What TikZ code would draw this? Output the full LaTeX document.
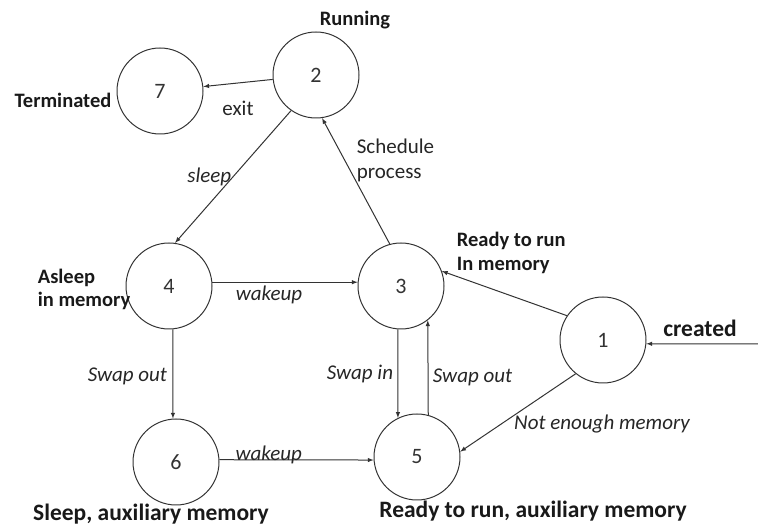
\documentclass[tikz,border=0pt]{standalone}
\usepackage{fontspec}
\setmainfont{Carlito}
\begin{document}
\begin{tikzpicture}[x=1pt, y=1pt, line width=1pt, color=black!80,
    state/.style={draw, circle, minimum size=86pt, inner sep=0pt, font=\fontsize{22}{24}\selectfont},
    lbl/.style={font=\fontsize{21}{25}\selectfont\itshape, text=black!85},
    txt/.style={font=\fontsize{21}{25}\selectfont, text=black!85},
    tag/.style={font=\fontsize{20.5}{24.5}\selectfont\bfseries, text=black!90},
    bigtag/.style={font=\fontsize{23.5}{27}\selectfont\bfseries, text=black!90},
    trans/.style={-latex}]
        \useasboundingbox (0,0) rectangle (758,527);

        \node[state] (n7) at (160,436) {7};
        \node[state] (n2) at (316,452) {2};
        \node[state] (n4) at (169,241) {4};
        \node[state] (n3) at (401,241) {3};
        \node[state] (n1) at (603,187) {1};
        \node[state] (n6) at (176,65) {6};
        \node[state] (n5) at (417,70) {5};
        \coordinate (new) at (758,183);

        \node[tag] (t2) at (355,507) {Running};
        \node[tag] (t7) at (63,427) {Terminated};
        \node[tag, anchor=west, align=left, font=\fontsize{20.5}{23}\selectfont\bfseries] (t4) at (34,238) {Asleep\\in memory};
        \node[tag, anchor=west, align=left] (t3) at (453,274) {Ready to run\\In memory};
        \node[bigtag] (t6) at (151,13) {Sleep, auxiliary memory};
        \node[bigtag] (t5) at (533,16) {Ready to run, auxiliary memory};
        \node[bigtag] (t1) at (700,199) {created};

        \draw[trans] (n2) -- node[txt, below=14pt] {exit} (n7);
        \draw[trans] (n2.235) -- node[lbl, left=-2pt] {sleep} (n4.82);
        \draw[trans] (n3.105) -- (n2.-82);
        \node[txt, anchor=west, align=left] (s32) at (353,367) {Schedule\\process};
        \draw[trans] (n4.5) -- node[lbl, below, pos=0.39] {wakeup} (n3.175);
        \draw[trans] (n4.-85) -- node[lbl, left=2pt, pos=0.53] {Swap out} (n6.94);
        \draw[trans] (n3.-94) -- node[lbl, left=1pt, pos=0.5] {Swap in} (n5.116);
        \draw[trans] (n5.75) -- node[lbl, right=1pt, pos=0.4] {Swap out} (n3.-52);
        \draw[trans] (n6.3) -- node[lbl, above=-8pt, pos=0.32] {wakeup} (n5.184);
        \draw[trans] (n1.146) -- (n3.20);
        \draw[trans] (n1.231) -- (n5.7);
        \node[lbl] (s15) at (602,103) {Not enough memory};
        \draw[trans] (new) -- (n1.-5);
    \end{tikzpicture}
\end{document}
